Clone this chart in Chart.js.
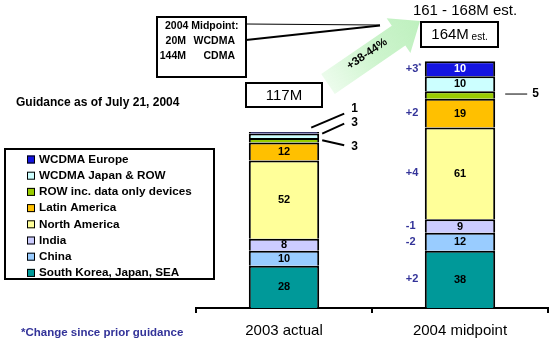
<!DOCTYPE html>
<html><head><meta charset="utf-8">
<script src="https://cdn.jsdelivr.net/npm/chart.js@4/dist/chart.umd.min.js"></script>
<style>html,body{margin:0;padding:0;background:#fff}#wrap{width:554px;height:341px;position:relative}</style>
</head><body><div id="wrap"><canvas id="c" width="554" height="341"></canvas></div>
<script>
// ---- data ----
const categories = ['2003 actual', '2004 midpoint'];
const seriesNames = ['South Korea, Japan, SEA', 'China', 'India', 'North America', 'Latin America', 'ROW inc. data only devices', 'WCDMA Japan & ROW', 'WCDMA Europe'];
const southKoreaJapanSEA = [28, 38];
const china = [10, 12];
const india = [8, 9];
const northAmerica = [52, 61];
const latinAmerica = [12, 19];
const rowDataOnly = [3, 5];
const wcdmaJapanROW = [3, 10];
const wcdmaEurope = [1, 10];
const changeSincePrior2004 = ['+2', '-2', '-1', '+4', '+2', '', '', '+3*'];
const totalLabels = ['117M', '164M'];
const rangeLabel = '161 - 168M est.';
const growthLabel = '+38-44%';
const midpointLines = [['2004 Midpoint:', ''], ['20M', 'WCDMA'], ['144M', 'CDMA']];

const seriesValues = [southKoreaJapanSEA, china, india, northAmerica, latinAmerica, rowDataOnly, wcdmaJapanROW, wcdmaEurope];
const seriesColors = ['#009999', '#99ccff', '#ccccff', '#ffff99', '#ffc000', '#99cc00', '#ccffff', '#1414e0'];
const FONT = '"Liberation Sans", Arial, sans-serif';

const datasets = seriesNames.map((n, i) => ({
  label: n,
  data: seriesValues[i],
  backgroundColor: seriesColors[i],
  borderColor: '#000',
  borderWidth: 2,
  barPercentage: 0.4,
  categoryPercentage: 1.0
}));

function box(ctx, x, y, w, h, lw) {
  ctx.save(); ctx.lineWidth = lw || 2; ctx.strokeStyle = '#000'; ctx.fillStyle = '#fff';
  ctx.fillRect(x, y, w, h); ctx.strokeRect(x, y, w, h); ctx.restore();
}
function line(ctx, x1, y1, x2, y2, lw) {
  ctx.save(); ctx.beginPath(); ctx.lineWidth = lw || 1; ctx.strokeStyle = '#000';
  ctx.moveTo(x1, y1); ctx.lineTo(x2, y2); ctx.stroke(); ctx.restore();
}
function text(ctx, s, x, y, font, color, align) {
  ctx.save(); ctx.font = font; ctx.fillStyle = color || '#000'; ctx.textAlign = align || 'left';
  ctx.textBaseline = 'middle'; ctx.fillText(s, x, y); const w = ctx.measureText(s).width; ctx.restore(); return w;
}

const annot = {
  id: 'annot',
  beforeDatasetsDraw(chart) {
    const ctx = chart.ctx;
    // green growth arrow
    const tail = [328, 84], tip = [420, 21];
    const dx = tip[0] - tail[0], dy = tip[1] - tail[1];
    const L = Math.hypot(dx, dy), ux = dx / L, uy = dy / L, px = -uy, py = ux;
    const hl = 26, sw = 12, hw = 21;
    const bx = tip[0] - ux * hl, by = tip[1] - uy * hl;
    const g = ctx.createLinearGradient(tail[0], tail[1], tip[0], tip[1]);
    g.addColorStop(0, 'rgba(200,245,200,0.35)');
    g.addColorStop(0.5, 'rgba(196,242,196,0.85)');
    g.addColorStop(1, 'rgb(190,240,190)');
    ctx.save(); ctx.fillStyle = g; ctx.beginPath();
    ctx.moveTo(tail[0] + px * sw, tail[1] + py * sw);
    ctx.lineTo(bx + px * sw, by + py * sw);
    ctx.lineTo(bx + px * hw, by + py * hw);
    ctx.lineTo(tip[0], tip[1]);
    ctx.lineTo(bx - px * hw, by - py * hw);
    ctx.lineTo(bx - px * sw, by - py * sw);
    ctx.lineTo(tail[0] - px * sw, tail[1] - py * sw);
    ctx.closePath(); ctx.fill();
    ctx.translate(367, 54); ctx.rotate(Math.atan2(dy, dx));
    ctx.font = 'bold 11.5px ' + FONT; ctx.fillStyle = '#000'; ctx.textAlign = 'center'; ctx.textBaseline = 'middle';
    ctx.fillText(growthLabel, 0, 0);
    ctx.restore();
  },
  afterDatasetsDraw(chart) {
    const ctx = chart.ctx;
    const metas = datasets.map((d, i) => chart.getDatasetMeta(i));
    const offs = [
      { sx: 3, sy: 0, ex: 25, ey: 5, lx: 32, ly: 6 },
      { sx: 3, sy: -2, ex: 25, ey: -12, lx: 32, ly: -13 },
      { sx: -8, sy: -5, ex: 25, ey: -19, lx: 32, ly: -24 }
    ];
    for (let j = 0; j < categories.length; j++) {
      const small = [];
      for (let i = 0; i < datasets.length; i++) {
        const el = metas[i].data[j];
        const v = seriesValues[i][j];
        const cy = (el.y + el.base) / 2;
        if (v >= 8) {
          text(ctx, String(v), el.x, cy + 0.5, 'bold 11px ' + FONT, i === 7 ? '#fff' : '#000', 'center');
        } else {
          small.push({ i, el, cy, v });
        }
        const ch = j === 1 ? changeSincePrior2004[i] : '';
        if (ch) {
          const lx = el.x - el.width / 2 - 19;
          const main = ch.replace('*', '');
          const w = text(ctx, main, lx, cy, 'bold 11px ' + FONT, '#333399', 'left');
          if (ch.indexOf('*') >= 0) text(ctx, '*', lx + w, cy - 3, 'bold 8px ' + FONT, '#333399', 'left');
        }
      }
      if (small.length === 1) {
        const s = small[0];
        const xr = s.el.x + s.el.width / 2;
        line(ctx, xr + 10, s.cy - 1, xr + 32, s.cy - 1, 1);
        text(ctx, String(s.v), xr + 37, s.cy - 1, 'bold 12px ' + FONT, '#000', 'left');
      } else if (small.length > 1) {
        const xr = small[0].el.x + small[0].el.width / 2;
        small.forEach((s, k) => {
          const o = offs[Math.min(k, offs.length - 1)];
          line(ctx, xr + o.sx, s.cy + o.sy, xr + o.ex, s.cy + o.ey, 2);
          text(ctx, String(s.v), xr + o.lx, s.cy + o.ly, 'bold 12px ' + FONT, '#000', 'left');
        });
      }
    }
    // total boxes
    box(ctx, 246, 83, 76, 24, 2);
    text(ctx, totalLabels[0], 284, 95.5, '15px ' + FONT, '#000', 'center');
    box(ctx, 421, 22, 77, 25, 2);
    ctx.save(); ctx.font = '15px ' + FONT; const w1 = ctx.measureText(totalLabels[1]).width;
    ctx.font = '10px ' + FONT; const w2 = ctx.measureText(' est.').width; ctx.restore();
    const sx = 459.5 - (w1 + w2) / 2;
    text(ctx, totalLabels[1], sx, 35, '15px ' + FONT, '#000', 'left');
    text(ctx, ' est.', sx + w1, 37, '10px ' + FONT, '#000', 'left');
    text(ctx, rangeLabel, 465, 11, '15px ' + FONT, '#000', 'center');
    // midpoint callout
    line(ctx, 246, 24, 380, 25, 1);
    line(ctx, 246, 40, 380, 25.5, 2);
    box(ctx, 157, 17, 89, 60, 2);
    const mf = 'bold 10.5px ' + FONT;
    text(ctx, midpointLines[0][0], 165, 26, mf, '#000', 'left');
    text(ctx, midpointLines[1][0], 186, 41, mf, '#000', 'right');
    text(ctx, midpointLines[1][1], 235, 41, mf, '#000', 'right');
    text(ctx, midpointLines[2][0], 186, 56.5, mf, '#000', 'right');
    text(ctx, midpointLines[2][1], 235, 56.5, mf, '#000', 'right');
    // guidance text
    text(ctx, 'Guidance as of July 21, 2004', 16, 103, 'bold 12px ' + FONT, '#000', 'left');
    // legend
    box(ctx, 5, 149, 209, 130, 2);
    for (let k = 0; k < seriesNames.length; k++) {
      const i = seriesNames.length - 1 - k;
      const y = 159.5 + k * 16.2;
      ctx.save(); ctx.fillStyle = seriesColors[i]; ctx.fillRect(27, y - 4, 8, 8);
      ctx.strokeStyle = '#000'; ctx.lineWidth = 1; ctx.strokeRect(27.5, y - 3.5, 7, 7); ctx.restore();
      text(ctx, seriesNames[i], 39, y, 'bold 11.7px ' + FONT, '#000', 'left');
    }
    // footnote
    text(ctx, '*Change since prior guidance', 21, 333, 'bold 11.5px ' + FONT, '#333399', 'left');
  }
};

new Chart(document.getElementById('c'), {
  type: 'bar',
  data: { labels: categories, datasets },
  options: {
    responsive: false, animation: false, devicePixelRatio: 1,
    layout: { padding: { left: 196, right: 6, top: 7, bottom: -8 } },
    plugins: { legend: { display: false }, tooltip: { enabled: false } },
    scales: {
      x: {
        stacked: true,
        grid: { display: true, drawOnChartArea: false, drawTicks: true, tickLength: 5, color: '#000', lineWidth: 2, offset: true },
        border: { display: true, color: '#000', width: 2 },
        ticks: { color: '#000', font: { family: FONT, size: 15 }, padding: 9 }
      },
      y: { stacked: true, display: false, min: 0, max: 200 }
    }
  },
  plugins: [annot]
});
</script></body></html>
